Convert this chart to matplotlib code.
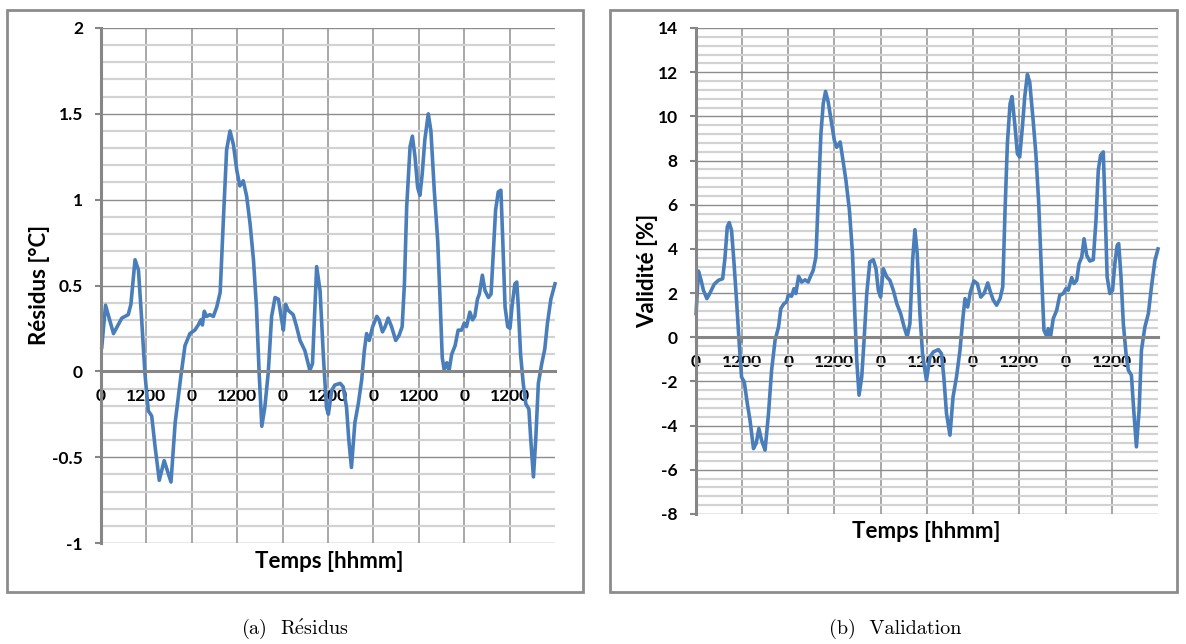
import matplotlib
matplotlib.use("Agg")
import matplotlib.pyplot as plt
from matplotlib.patches import Rectangle
from matplotlib.ticker import MultipleLocator

plt.rcParams["axes.unicode_minus"] = False
plt.rcParams["mathtext.fontset"] = "cm"

# time in hours from the start of the 5-day window
res_t = [0.2, 1.2, 3.3, 5.5, 7.2, 7.9, 9.0, 9.9, 10.7, 11.6, 12.5, 13.4, 14.3, 15.4, 16.7,
         18.5, 19.6, 21.1, 22.2, 23.5, 24.8, 25.7, 26.4, 26.8, 27.3, 27.9, 28.8, 29.7, 30.6,
         31.5, 32.3, 33.2, 34.1, 35.0, 35.9, 36.7, 37.6, 38.5, 39.4, 40.3, 41.1, 41.8, 42.5,
         43.3, 44.2, 45.1, 46.0, 46.9, 47.6, 48.2, 48.8, 49.5, 50.8, 51.7, 52.6, 53.9, 55.2,
         55.9, 57.0, 57.9, 58.8, 59.6, 60.1, 61.0, 61.8, 63.2, 64.0, 64.9, 65.5, 66.2, 67.1,
         68.0, 68.9, 69.6, 70.2, 70.9, 71.8, 72.9, 73.5, 74.4, 75.1, 75.9, 76.8, 77.9, 78.8,
         79.6, 80.2, 80.8, 81.7, 82.3, 83.0, 83.7, 84.3, 84.9, 85.6, 86.5, 87.2, 88.1, 89.0,
         89.6, 90.2, 90.7, 91.4, 92.0, 92.7, 93.6, 94.4, 95.3, 96.0, 96.6, 97.5, 98.2, 98.8,
         99.5, 100.0, 100.8, 101.5, 102.4, 103.1, 103.7, 104.3, 105.0, 105.7, 106.2, 106.8,
         107.5, 108.1, 108.7, 109.4, 109.9, 110.3, 110.9, 111.6, 112.3, 113.1, 113.6, 114.3,
         114.9, 115.6, 116.5, 117.3, 118.0, 118.9, 120.0]
residus = [0.14, 0.385, 0.22, 0.31, 0.33, 0.39, 0.65, 0.59, 0.32, -0.01, -0.23, -0.26, -0.44,
           -0.635, -0.52, -0.645, -0.30, -0.03, 0.15, 0.22, 0.24, 0.27, 0.30, 0.27, 0.35, 0.32,
           0.33, 0.32, 0.375, 0.46, 0.86, 1.29, 1.40, 1.32, 1.17, 1.08, 1.11, 1.02, 0.86, 0.65,
           0.37, -0.01, -0.32, -0.21, -0.01, 0.32, 0.43, 0.42, 0.32, 0.24, 0.39, 0.355, 0.33,
           0.26, 0.18, 0.12, 0.005, 0.045, 0.61, 0.47, 0.08, -0.21, -0.25, -0.11, -0.08, -0.07,
           -0.09, -0.21, -0.40, -0.56, -0.30, -0.19, -0.05, 0.12, 0.22, 0.18, 0.26, 0.32, 0.30,
           0.23, 0.26, 0.31, 0.26, 0.18, 0.21, 0.26, 0.51, 0.96, 1.31, 1.37, 1.25, 1.07, 1.025,
           1.15, 1.35, 1.50, 1.40, 1.05, 0.76, 0.43, 0.08, 0.01, 0.05, 0.005, 0.10, 0.15, 0.24,
           0.24, 0.28, 0.26, 0.345, 0.30, 0.32, 0.42, 0.45, 0.56, 0.47, 0.43, 0.45, 0.70, 0.94,
           1.045, 1.055, 0.76, 0.375, 0.26, 0.25, 0.39, 0.51, 0.52, 0.375, 0.10, -0.07, -0.19,
           -0.22, -0.40, -0.615, -0.40, -0.07, 0.045, 0.13, 0.28, 0.42, 0.51]

val_t = [0.1, 0.7, 1.4, 2.0, 2.9, 3.7, 4.8, 5.9, 7.0, 7.6, 8.2, 8.7, 9.3, 9.9, 10.6, 11.3,
         11.9, 12.6, 13.4, 14.1, 15.0, 15.7, 16.4, 17.1, 18.0, 18.9, 19.7, 20.6, 21.5, 22.1,
         22.9, 23.6, 24.0, 24.9, 25.5, 26.0, 26.7, 27.5, 28.4, 29.2, 29.8, 30.5, 31.2, 31.8,
         32.5, 33.1, 33.7, 34.4, 35.3, 36.0, 36.6, 37.5, 38.1, 39.0, 39.9, 40.7, 41.3, 41.8,
         42.4, 43.1, 43.7, 44.4, 45.2, 46.1, 46.8, 47.4, 48.0, 48.7, 49.6, 50.4, 51.3, 52.2,
         53.2, 54.1, 54.9, 55.6, 56.3, 56.9, 57.5, 58.2, 58.9, 59.9, 60.8, 61.7, 63.0, 63.8,
         64.4, 65.1, 66.0, 66.8, 67.7, 68.6, 69.3, 69.9, 70.6, 71.3, 72.2, 73.1, 74.0, 74.9,
         75.8, 76.5, 77.2, 78.1, 79.0, 79.7, 80.3, 80.9, 81.6, 82.1, 82.9, 83.5, 84.1, 84.8,
         85.4, 86.1, 86.7, 87.6, 88.3, 89.0, 89.8, 90.4, 91.1, 91.5, 92.1, 92.8, 93.7, 94.5,
         95.4, 96.1, 96.7, 97.6, 98.2, 98.9, 99.5, 100.2, 100.8, 101.5, 102.3, 103.2, 103.9,
         104.5, 105.1, 105.8, 106.2, 106.8, 107.5, 108.2, 108.8, 109.4, 109.8, 110.4, 111.0,
         111.7, 112.3, 113.1, 113.7, 114.4, 115.1, 115.7, 116.6, 117.5, 118.3, 119.2, 120.0]
validite = [1.07, 3.0, 2.58, 2.13, 1.75, 2.0, 2.4, 2.58, 2.65, 3.6, 5.0, 5.19, 4.84, 3.48, 1.67,
            -0.29, -1.8, -2.02, -3.0, -3.76, -5.04, -4.8, -4.13, -4.66, -5.11, -3.45, -1.49,
            -0.14, 0.47, 1.3, 1.52, 1.6, 1.9, 1.86, 2.2, 1.98, 2.76, 2.5, 2.6, 2.5, 2.76, 3.03,
            3.63, 6.2, 9.2, 10.57, 11.13, 10.65, 9.67, 8.9, 8.6, 8.84, 8.16, 7.1, 5.75, 3.79,
            1.07, -1.04, -2.62, -1.79, -0.14, 1.98, 3.41, 3.51, 3.1, 2.13, 1.82, 3.1, 2.73,
            2.58, 2.13, 1.52, 1.07, 0.47, 0.02, 0.62, 3.48, 4.87, 3.79, 1.07, -0.8, -1.95,
            -0.89, -0.66, -0.56, -0.74, -1.79, -3.45, -4.43, -2.7, -1.79, -0.59, 0.77, 1.75,
            1.37, 2.05, 2.55, 2.43, 1.82, 2.0, 2.46, 2.05, 1.7, 1.45, 1.75, 2.28, 5.75, 8.76,
            10.57, 10.9, 9.52, 8.31, 8.16, 9.52, 10.87, 11.9, 11.55, 9.8, 8.3, 6.2, 2.73, 0.32,
            0.05, 0.39, 0.02, 0.84, 1.22, 1.9, 1.98, 2.2, 2.13, 2.7, 2.43, 2.58, 3.33, 3.63,
            4.46, 3.71, 3.45, 3.51, 5.29, 7.56, 8.24, 8.39, 6.2, 2.73, 1.98, 2.13, 3.33, 4.16,
            4.24, 2.73, 0.62, -0.74, -1.49, -1.72, -3.3, -4.96, -3.3, -0.59, 0.47, 1.07, 2.28,
            3.48, 4.0]

tick_hours = [0, 12, 24, 36, 48, 60, 72, 84, 96, 108]
tick_labels = ["0", "1200"] * 5

LINE = "#4a7ebb"
AX_GREY = "#868686"
FONT = "Lato"

fig = plt.figure(figsize=(11.86, 6.44), dpi=100)
W, H = 1186, 644


def fx(px):
    return px / W


def fy(py):
    return 1 - py / H


def panel(rect, t, y, ymin, ymax, major, minor, ylabel, ylab_xy, xlab_xy, frame):
    fig.patches.append(Rectangle((fx(frame[0]), fy(frame[3])), fx(frame[2] - frame[0]),
                                 (frame[3] - frame[1]) / H, transform=fig.transFigure,
                                 fill=False, edgecolor="#8c8c8c", linewidth=2))
    ax = fig.add_axes(rect)
    for s in ("top", "right"):
        ax.spines[s].set_visible(False)
    ax.spines["bottom"].set_position(("data", 0))
    ax.spines["bottom"].set_color(AX_GREY)
    ax.spines["bottom"].set_linewidth(2.2)
    ax.spines["left"].set_color(AX_GREY)
    ax.spines["left"].set_linewidth(2.2)

    ax.set_xlim(0, 120)
    ax.set_ylim(ymin, ymax)
    ax.yaxis.set_major_locator(MultipleLocator(major))
    ax.yaxis.set_minor_locator(MultipleLocator(minor))
    ax.yaxis.set_major_formatter(plt.FuncFormatter(lambda v, p: f"{v:g}"))
    ax.set_xticks(tick_hours)
    ax.set_xticklabels(tick_labels)
    ax.grid(which="minor", axis="y", color="#d2d2d2", linewidth=1.6)
    ax.grid(which="major", axis="y", color="#8c8c8c", linewidth=1.0)
    ax.grid(which="major", axis="x", color="#9a9a9a", linewidth=1.2)
    ax.set_axisbelow(True)

    ax.tick_params(axis="y", which="major", length=4, width=1.5, color=AX_GREY, pad=9,
                   labelsize=12.5)
    ax.tick_params(axis="y", which="minor", length=0)
    ax.tick_params(axis="x", which="major", length=4, width=1.5, color=AX_GREY, pad=8,
                   labelsize=12.5)
    for lab in ax.get_yticklabels() + ax.get_xticklabels():
        lab.set_fontweight("bold")
        lab.set_family(FONT)

    ax.plot(t, y, color=LINE, linewidth=2.6, solid_joinstyle="round", clip_on=False)
    fig.text(fx(ylab_xy[0]), fy(ylab_xy[1]), ylabel, rotation=90, ha="center", va="center",
             fontsize=16, fontweight="bold", family=FONT)
    fig.text(fx(xlab_xy[0]), fy(xlab_xy[1]), "Temps [hhmm]", ha="center", va="center",
             fontsize=16, fontweight="bold", family=FONT)
    return ax


ax1 = panel([fx(101), fy(543), fx(454), 515 / H], res_t, residus, -1, 2, 0.5, 0.1,
            "Résidus [°C]", (40, 285), (329, 562), (7, 10, 583, 592))

ax2 = panel([fx(695.7), fy(514), fx(462.3), 486 / H], val_t, validite, -8, 14, 2, 0.4,
            "Validité [%]", (648, 271), (926, 532), (610, 10, 1177, 592))

fig.text(fx(295), fy(629), r"(a)  R$\mathrm{\acute{e}}$sidus", ha="center", va="center",
         fontsize=14.5, family="cmr10")
fig.text(fx(895), fy(629), "(b)  Validation", ha="center", va="center", fontsize=14.5,
         family="cmr10")

fig.savefig("out.png", dpi=100)
